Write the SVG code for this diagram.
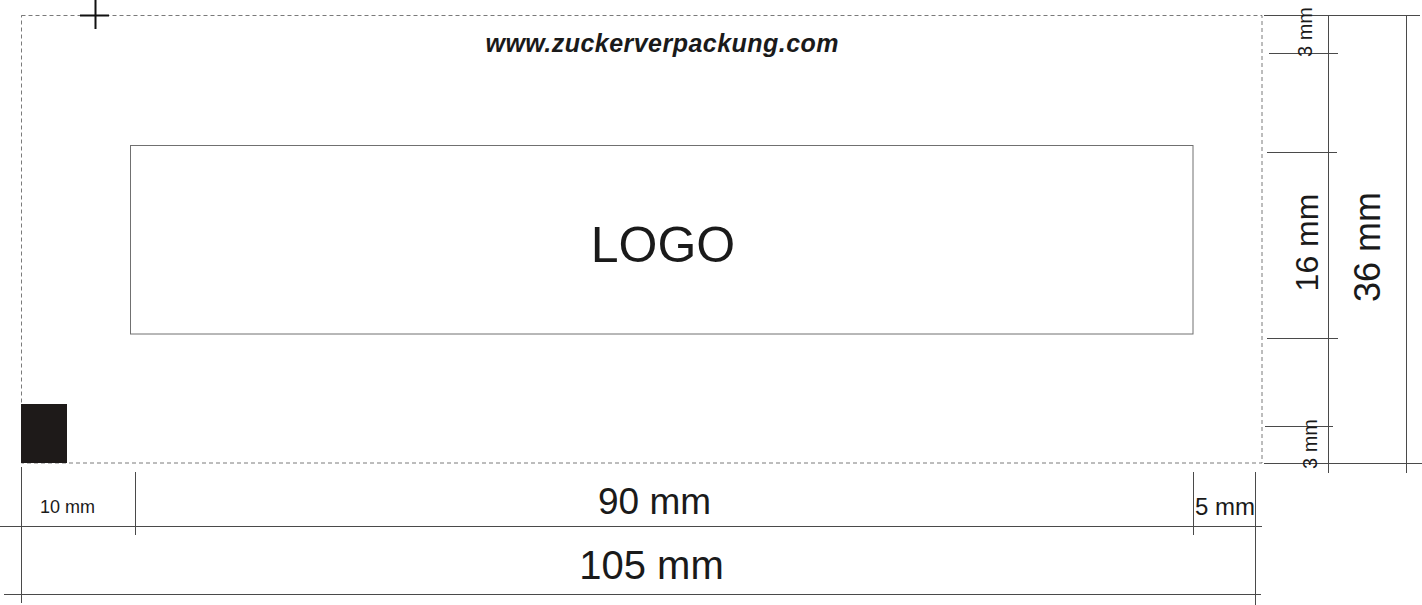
<svg xmlns="http://www.w3.org/2000/svg" width="1422" height="605" viewBox="0 0 1422 605">
<style>
.dim{stroke:#4a4a4a;stroke-width:1;fill:none}
.dash{stroke:#7a7a7a;stroke-width:1;fill:none;stroke-dasharray:4 3}
.t{font-family:"Liberation Sans",Arial,sans-serif;fill:#1a1a1a}
</style>
<rect width="1422" height="605" fill="#ffffff"/>
<g id="bleed">
<rect class="dash" x="21.5" y="15.5" width="1240.5" height="447.5"/>
</g>
<g id="crosshair">
<path d="M80 15.5H109M95.5 0V29" stroke="#111" stroke-width="2" fill="none"/>
</g>
<g id="marker-square">
<rect x="21" y="404" width="46" height="59" fill="#1e1a19"/>
</g>
<g id="url">
<text class="t" x="662" y="52" font-size="25" font-weight="bold" font-style="italic" text-anchor="middle" textLength="353">www.zuckerverpackung.com</text>
</g>
<g id="logo">
<rect x="130.5" y="145.5" width="1062.5" height="188.5" fill="none" stroke="#707070" stroke-width="1"/>
<text class="t" x="663" y="262" font-size="50" text-anchor="middle">LOGO</text>
</g>
<g id="dimensions">
<path class="dim" d="M1264 15.5H1420M1264 463.5H1422M1269 53.5H1338M1267 152.5H1337M1267 338.5H1338M1265 426.5H1333M1328.5 15V473M1406.5 15V473"/>
<path class="dim" d="M0 526.5H1262M4 594.5H1261M21.5 467V603M135.5 472V535M1193.5 472V535M1255.5 472V605"/>
</g>
<g id="labels">
<text class="t" font-size="20" text-anchor="middle" transform="translate(1312 32) rotate(-90)">3 mm</text>
<text class="t" font-size="20" text-anchor="middle" transform="translate(1317 444) rotate(-90)">3 mm</text>
<text class="t" font-size="32" text-anchor="middle" transform="translate(1318 242.5) rotate(-90)">16 mm</text>
<text class="t" font-size="36" text-anchor="middle" transform="translate(1380 247) rotate(-90)">36 mm</text>
<text class="t" x="40" y="513" font-size="18">10 mm</text>
<text class="t" x="1195" y="515" font-size="24">5 mm</text>
<text class="t" x="654.5" y="514" font-size="37" text-anchor="middle">90 mm</text>
<text class="t" x="651.5" y="579" font-size="40" text-anchor="middle">105 mm</text>
</g>
</svg>
